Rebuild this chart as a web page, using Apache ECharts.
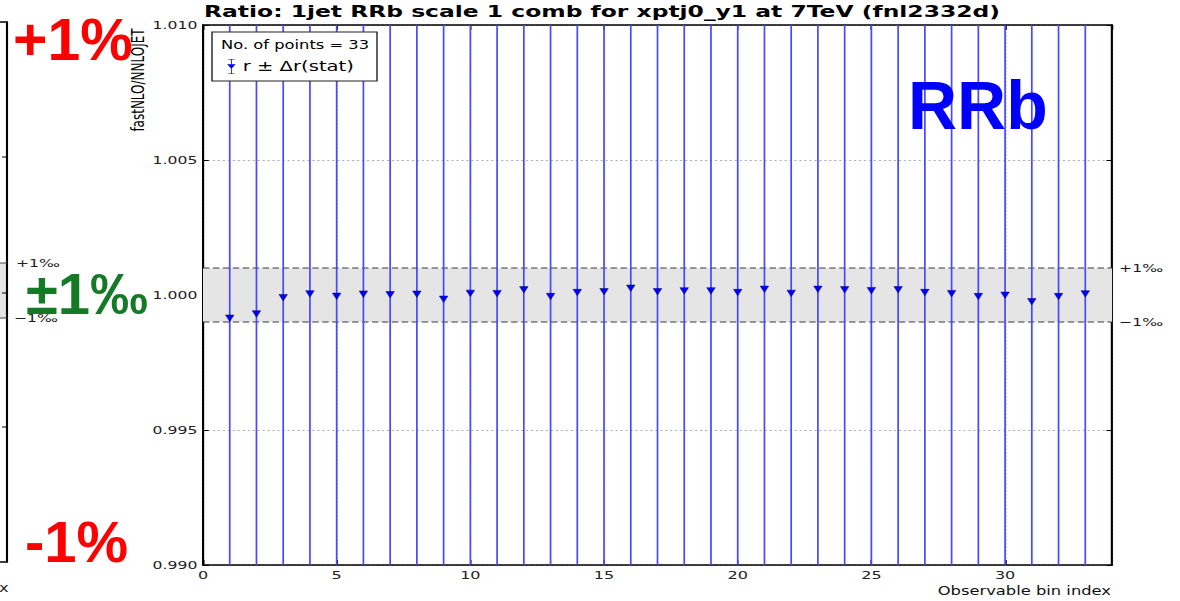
<!DOCTYPE html>
<html>
<head>
<meta charset="utf-8">
<script src="https://cdn.jsdelivr.net/npm/echarts@6/dist/echarts.min.js"></script>
<style>
html,body{margin:0;padding:0;background:#fff;overflow:hidden;}
#wrap{width:1180px;height:601px;overflow:hidden;position:relative;}
#chart{position:absolute;left:0;top:0;height:601px;transform-origin:0 0;}
</style>
</head>
<body>
<div id="wrap"><div id="chart"></div></div>
<script>
// ---- data ----
const bins = [1,2,3,4,5,6,7,8,9,10,11,12,13,14,15,16,17,18,19,20,21,22,23,24,25,26,27,28,29,30,31,32,33];
const ratio = [0.99914,0.99930,0.99990,1.00004,0.99995,1.00003,1.00001,1.00003,0.99984,1.00006,
               1.00005,1.00019,0.99994,1.00009,1.00012,1.00025,1.00012,1.00015,1.00015,1.00009,
               1.00021,1.00006,1.00021,1.00019,1.00016,1.00019,1.00009,1.00005,0.99994,0.99999,
               0.99975,0.99994,1.00004];
// statistical errors extend far beyond the plotted range
const statErr = [0.02,0.02,0.02,0.02,0.02,0.02,0.02,0.02,0.02,0.02,0.02,0.02,0.02,0.02,0.02,0.02,0.02,
                 0.02,0.02,0.02,0.02,0.02,0.02,0.02,0.02,0.02,0.02,0.02,0.02,0.02,0.02,0.02,0.02];
const bandHi = 1.001, bandLo = 0.999;
const bandLabels = ['+1\u2030', '\u22121\u2030'];
const yRange = [0.990, 1.010], yStep = 0.005;
const xRange = [0, 34], xStep = 5;
const titleText = 'Ratio: 1jet RRb scale 1 comb for xptj0_y1 at 7TeV (fnl2332d)';
const yName = 'fastNLO/NNLOJET';
const xName = 'Observable bin index';
const seriesName = 'r \u00b1 \u0394r(stat)';

// ---- layout (the plot image is horizontally stretched) ----
const S = 1.42;
const W = 1180 / S;
const el = document.getElementById('chart');
el.style.width = W + 'px';
el.style.transform = 'scaleX(' + S + ')';
const X = v => v / S; // reference px -> chart px

const FONT = '"DejaVu Sans", sans-serif';
const chart = echarts.init(el, null, {renderer: 'svg'});

const pts = bins.map((b, i) => [b, ratio[i]]);
const bars = bins.map((b, i) => [b, ratio[i] - statErr[i], ratio[i] + statErr[i]]);

function axisCommon(){
  return {
    axisLine: {show: true, onZero: false, lineStyle: {color: '#000', width: 1.5}},
    axisTick: {show: true, inside: true, length: 5, lineStyle: {color: '#000', width: 1}},
  };
}

const bigText = (txt, xr, y, size, color) => ({
  type: 'text', x: X(xr), y: y, scaleX: 1 / S, z: 200,
  style: {text: txt, font: 'bold ' + size + 'px "Liberation Sans", Arial, sans-serif',
          fill: color, textVerticalAlign: 'middle', textAlign: 'left'}
});

const bandLine = (name, v, lbl) => ({
  name: name, type: 'line', z: 1, silent: true, symbol: 'none',
  data: [[xRange[0], v], [xRange[1], v]],
  itemStyle: {color: '#333'},
  lineStyle: {type: [4.5, 2.5], color: '#3a3a3a', width: 1},
  endLabel: {show: true, formatter: lbl, distance: 5, fontFamily: FONT, fontSize: 11,
             color: '#1a1a1a', textBorderWidth: 0}
});

const option = {
  animation: false,
  backgroundColor: '#fff',
  title: {
    text: titleText, left: X(204), top: 3, padding: 0,
    textStyle: {fontFamily: FONT, fontWeight: 'bold', fontSize: 16.5, color: '#000'}
  },
  grid: {left: X(203), right: W - X(1112), top: 25, bottom: 36, containLabel: false},
  legend: {
    show: true, orient: 'vertical', left: X(220), top: 54, z: 60,
    itemWidth: 6, itemHeight: 15, selectedMode: false,
    textStyle: {fontFamily: FONT, fontSize: 13.8, color: '#000'},
    data: [{name: seriesName,
            itemStyle: {color: '#0000ff', borderWidth: 0},
            icon: 'path://M1,7 L9,7 L5,13 Z M4.6,0 L5.4,0 L5.4,20 L4.6,20 Z M2,0 L8,0 L8,0.8 L2,0.8 Z M2,19.2 L8,19.2 L8,20 L2,20 Z'}]
  },
  xAxis: [
    Object.assign(axisCommon(), {
      type: 'value', min: xRange[0], max: xRange[1], interval: xStep, position: 'bottom',
      axisLabel: {fontFamily: FONT, fontSize: 11.3, color: '#222', margin: 4, showMaxLabel: false},
      splitLine: {show: true, lineStyle: {type: [1.5, 2], color: '#b0b0b0', width: 0.8}}
    }),
    Object.assign(axisCommon(), {
      type: 'value', min: xRange[0], max: xRange[1], interval: xStep, position: 'top',
      axisLabel: {show: false}, splitLine: {show: false}
    })
  ],
  yAxis: [
    Object.assign(axisCommon(), {
      type: 'value', min: yRange[0], max: yRange[1], interval: yStep, position: 'left',
      axisTick: {show: true, inside: true, length: 4, lineStyle: {color: '#000', width: 1}},
      axisLabel: {fontFamily: FONT, fontSize: 11, color: '#222', margin: 4,
                  formatter: v => v.toFixed(3)},
      splitLine: {show: true, lineStyle: {type: [1.5, 2], color: '#b0b0b0', width: 0.8}}
    }),
    Object.assign(axisCommon(), {
      type: 'value', min: yRange[0], max: yRange[1], interval: yStep, position: 'right',
      axisTick: {show: true, inside: true, length: 4, lineStyle: {color: '#000', width: 1}},
      axisLabel: {show: false}, splitLine: {show: false}
    })
  ],
  series: [
    {
      name: 'band', type: 'line', data: [], z: 0, silent: true,
      markArea: {silent: true, itemStyle: {color: '#e5e5e5'},
                 data: [[{yAxis: bandLo}, {yAxis: bandHi}]]}
    },
    bandLine('bandHi', bandHi, bandLabels[0]),
    bandLine('bandLo', bandLo, bandLabels[1]),
    {
      name: 'errbar', type: 'custom', z: 2, silent: true,
      data: bars,
      encode: {x: 0, y: [1, 2]},
      renderItem: function(params, api){
        const x = api.value(0), lo = api.value(1), hi = api.value(2);
        const p1 = api.coord([x, hi]), p2 = api.coord([x, lo]);
        const cs = params.coordSys;
        const y1 = Math.max(p1[1], cs.y), y2 = Math.min(p2[1], cs.y + cs.height);
        return {type: 'line', shape: {x1: p1[0], y1: y1, x2: p1[0], y2: y2},
                style: {stroke: '#4848ff', lineWidth: 1.2}};
      }
    },
    {
      name: seriesName, type: 'scatter', z: 3, data: pts,
      symbol: 'triangle', symbolRotate: 180, symbolSize: [6, 6.5],
      itemStyle: {color: '#0000ff', borderColor: '#00006e', borderWidth: 0.4, opacity: 1}
    }
  ],
  graphic: [
    // legend frame + point count
    {type: 'rect', z: 50, shape: {x: X(212), y: 32, width: X(377) - X(212), height: 49},
     style: {fill: '#fff', stroke: '#222', lineWidth: 1}},
    {type: 'text', z: 60, x: X(221), y: 45,
     style: {text: 'No. of points = ' + bins.length, font: '11.5px ' + FONT, fill: '#000',
             textVerticalAlign: 'middle'}},
    // y-axis title
    {type: 'text', z: 60, x: X(138), y: 80, rotation: Math.PI / 2,
     style: {text: yName, font: '12px ' + FONT, fill: '#000',
             textAlign: 'center', textVerticalAlign: 'middle'}},
    // x-axis title
    {type: 'text', z: 60, x: X(1111), y: 591,
     style: {text: xName, font: '11.5px ' + FONT, fill: '#111',
             textAlign: 'right', textVerticalAlign: 'middle'}},
    // fragment of neighbouring panel on the left
    {type: 'rect', z: 5, shape: {x: 0, y: 263, width: X(7), height: 55}, style: {fill: '#e5e5e5'}},
    {type: 'polyline', z: 6, shape: {points: [[0, 22], [X(7), 22], [X(7), 562], [0, 562]]},
     style: {stroke: '#000', lineWidth: 1.5, fill: null}},
    {type: 'line', z: 6, shape: {x1: X(2), y1: 157, x2: X(7), y2: 157}, style: {stroke: '#000', lineWidth: 1}},
    {type: 'line', z: 6, shape: {x1: X(2), y1: 293, x2: X(7), y2: 293}, style: {stroke: '#000', lineWidth: 1}},
    {type: 'line', z: 6, shape: {x1: X(2), y1: 427, x2: X(7), y2: 427}, style: {stroke: '#000', lineWidth: 1}},
    {type: 'line', z: 6, shape: {x1: 0, y1: 263, x2: X(7), y2: 263}, style: {stroke: '#444', lineWidth: 1}},
    {type: 'line', z: 6, shape: {x1: 0, y1: 318, x2: X(7), y2: 318}, style: {stroke: '#444', lineWidth: 1}},
    {type: 'text', z: 60, x: X(16), y: 263,
     style: {text: bandLabels[0], font: '11px ' + FONT, fill: '#222', textVerticalAlign: 'middle'}},
    {type: 'text', z: 60, x: X(14), y: 318,
     style: {text: bandLabels[1], font: '11px ' + FONT, fill: '#222', textVerticalAlign: 'middle'}},
    {type: 'text', z: 60, x: X(-1), y: 588,
     style: {text: 'x', font: '11.5px ' + FONT, fill: '#222', textVerticalAlign: 'middle'}},
    // big annotations
    bigText('+1%', 13, 40, 59, '#ff0000'),
    bigText('-1%', 25, 542, 58, '#ff0000'),
    bigText('\u00b11\u2030', 26, 294, 58, '#157a26'),
    bigText('RRb', 908, 105, 68, '#0000ff')
  ]
};
chart.setOption(option);
</script>
</body>
</html>
